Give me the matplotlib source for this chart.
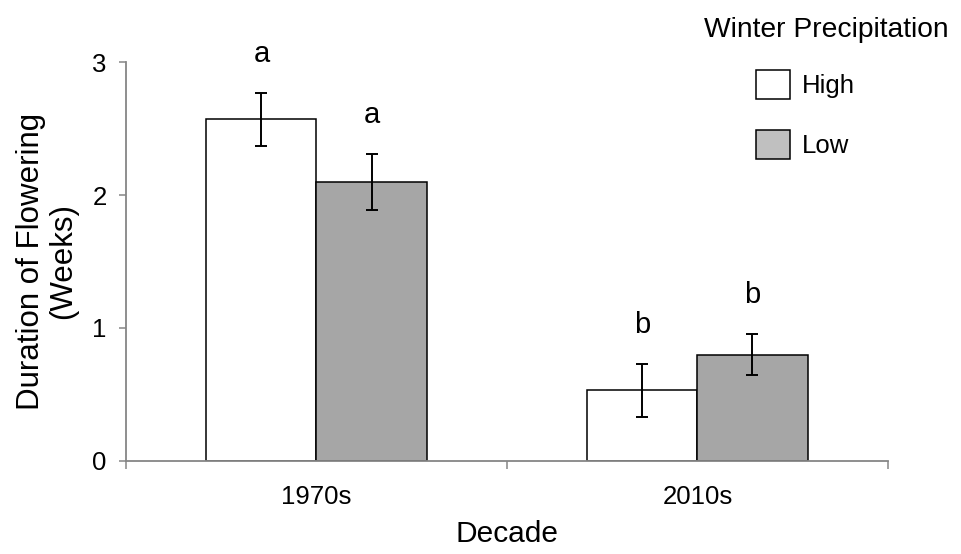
import matplotlib.pyplot as plt
import numpy as np
from matplotlib.patches import Patch

plt.rcParams['font.family'] = ['Liberation Sans', 'DejaVu Sans']

decades = ['1970s', '2010s']
high_mean = [2.57, 0.53]
high_err = [0.20, 0.20]
low_mean = [2.10, 0.80]
low_err = [0.21, 0.155]
high_letters = ['a', 'b']
low_letters = ['a', 'b']

fig = plt.figure(figsize=(9.62, 5.54), dpi=100)
ax = fig.add_axes([0.131, 0.168, 0.792, 0.720])

x = np.arange(len(decades))
w = 0.289
ekw = dict(ecolor='black', elinewidth=1.4, capsize=4.5, capthick=1.4)

ax.bar(x - w/2, high_mean, w, yerr=high_err, color='white', edgecolor='black',
       linewidth=1.1, error_kw=ekw, zorder=2)
ax.bar(x + w/2, low_mean, w, yerr=low_err, color='#a6a6a6', edgecolor='black',
       linewidth=1.1, error_kw=ekw, zorder=2)

# significance letters above the error bars
for i in range(len(decades)):
    ax.annotate(high_letters[i], (x[i] - w/2, high_mean[i] + high_err[i]),
                xytext=(0, 28), textcoords='offset points', ha='center', va='center',
                fontsize=21, annotation_clip=False)
    ax.annotate(low_letters[i], (x[i] + w/2, low_mean[i] + low_err[i]),
                xytext=(0, 28), textcoords='offset points', ha='center', va='center',
                fontsize=21, annotation_clip=False)

ax.set_xlim(-0.5, 1.5)
ax.set_ylim(0, 3)
ax.set_yticks([0, 1, 2, 3])
ax.set_xticks(x)
ax.set_xticklabels(decades)
ax.set_xticks([-0.5, 0.5, 1.5], minor=True)

for s in ['top', 'right']:
    ax.spines[s].set_visible(False)
for s in ['left', 'bottom']:
    ax.spines[s].set_color('#868686')
    ax.spines[s].set_linewidth(1.3)

ax.tick_params(axis='y', direction='out', length=5, width=1.1, color='#868686',
               labelsize=18.5, pad=9)
ax.tick_params(axis='x', which='major', length=0, labelsize=18.5, pad=17)
ax.tick_params(axis='x', which='minor', direction='out', length=6, width=1.1,
               color='#868686')

ax.set_xlabel('Decade', fontsize=21.5, labelpad=8)
ax.set_ylabel('Duration of Flowering\n(Weeks)', fontsize=22.5, labelpad=10,
              linespacing=1.12)

handles = [Patch(facecolor='white', edgecolor='black', linewidth=1.1, label='High'),
           Patch(facecolor='#c0c0c0', edgecolor='black', linewidth=1.1, label='Low')]
fig.legend(handles=handles, loc='upper left', bbox_to_anchor=(0.772, 0.896),
           frameon=False, fontsize=18.5, handlelength=1.35, handleheight=1.35,
           handletextpad=0.45, labelspacing=1.2, borderpad=0)
fig.text(0.8585, 0.946, 'Winter Precipitation', ha='center', va='center', fontsize=20.3)

fig.savefig('out.png', dpi=100)
